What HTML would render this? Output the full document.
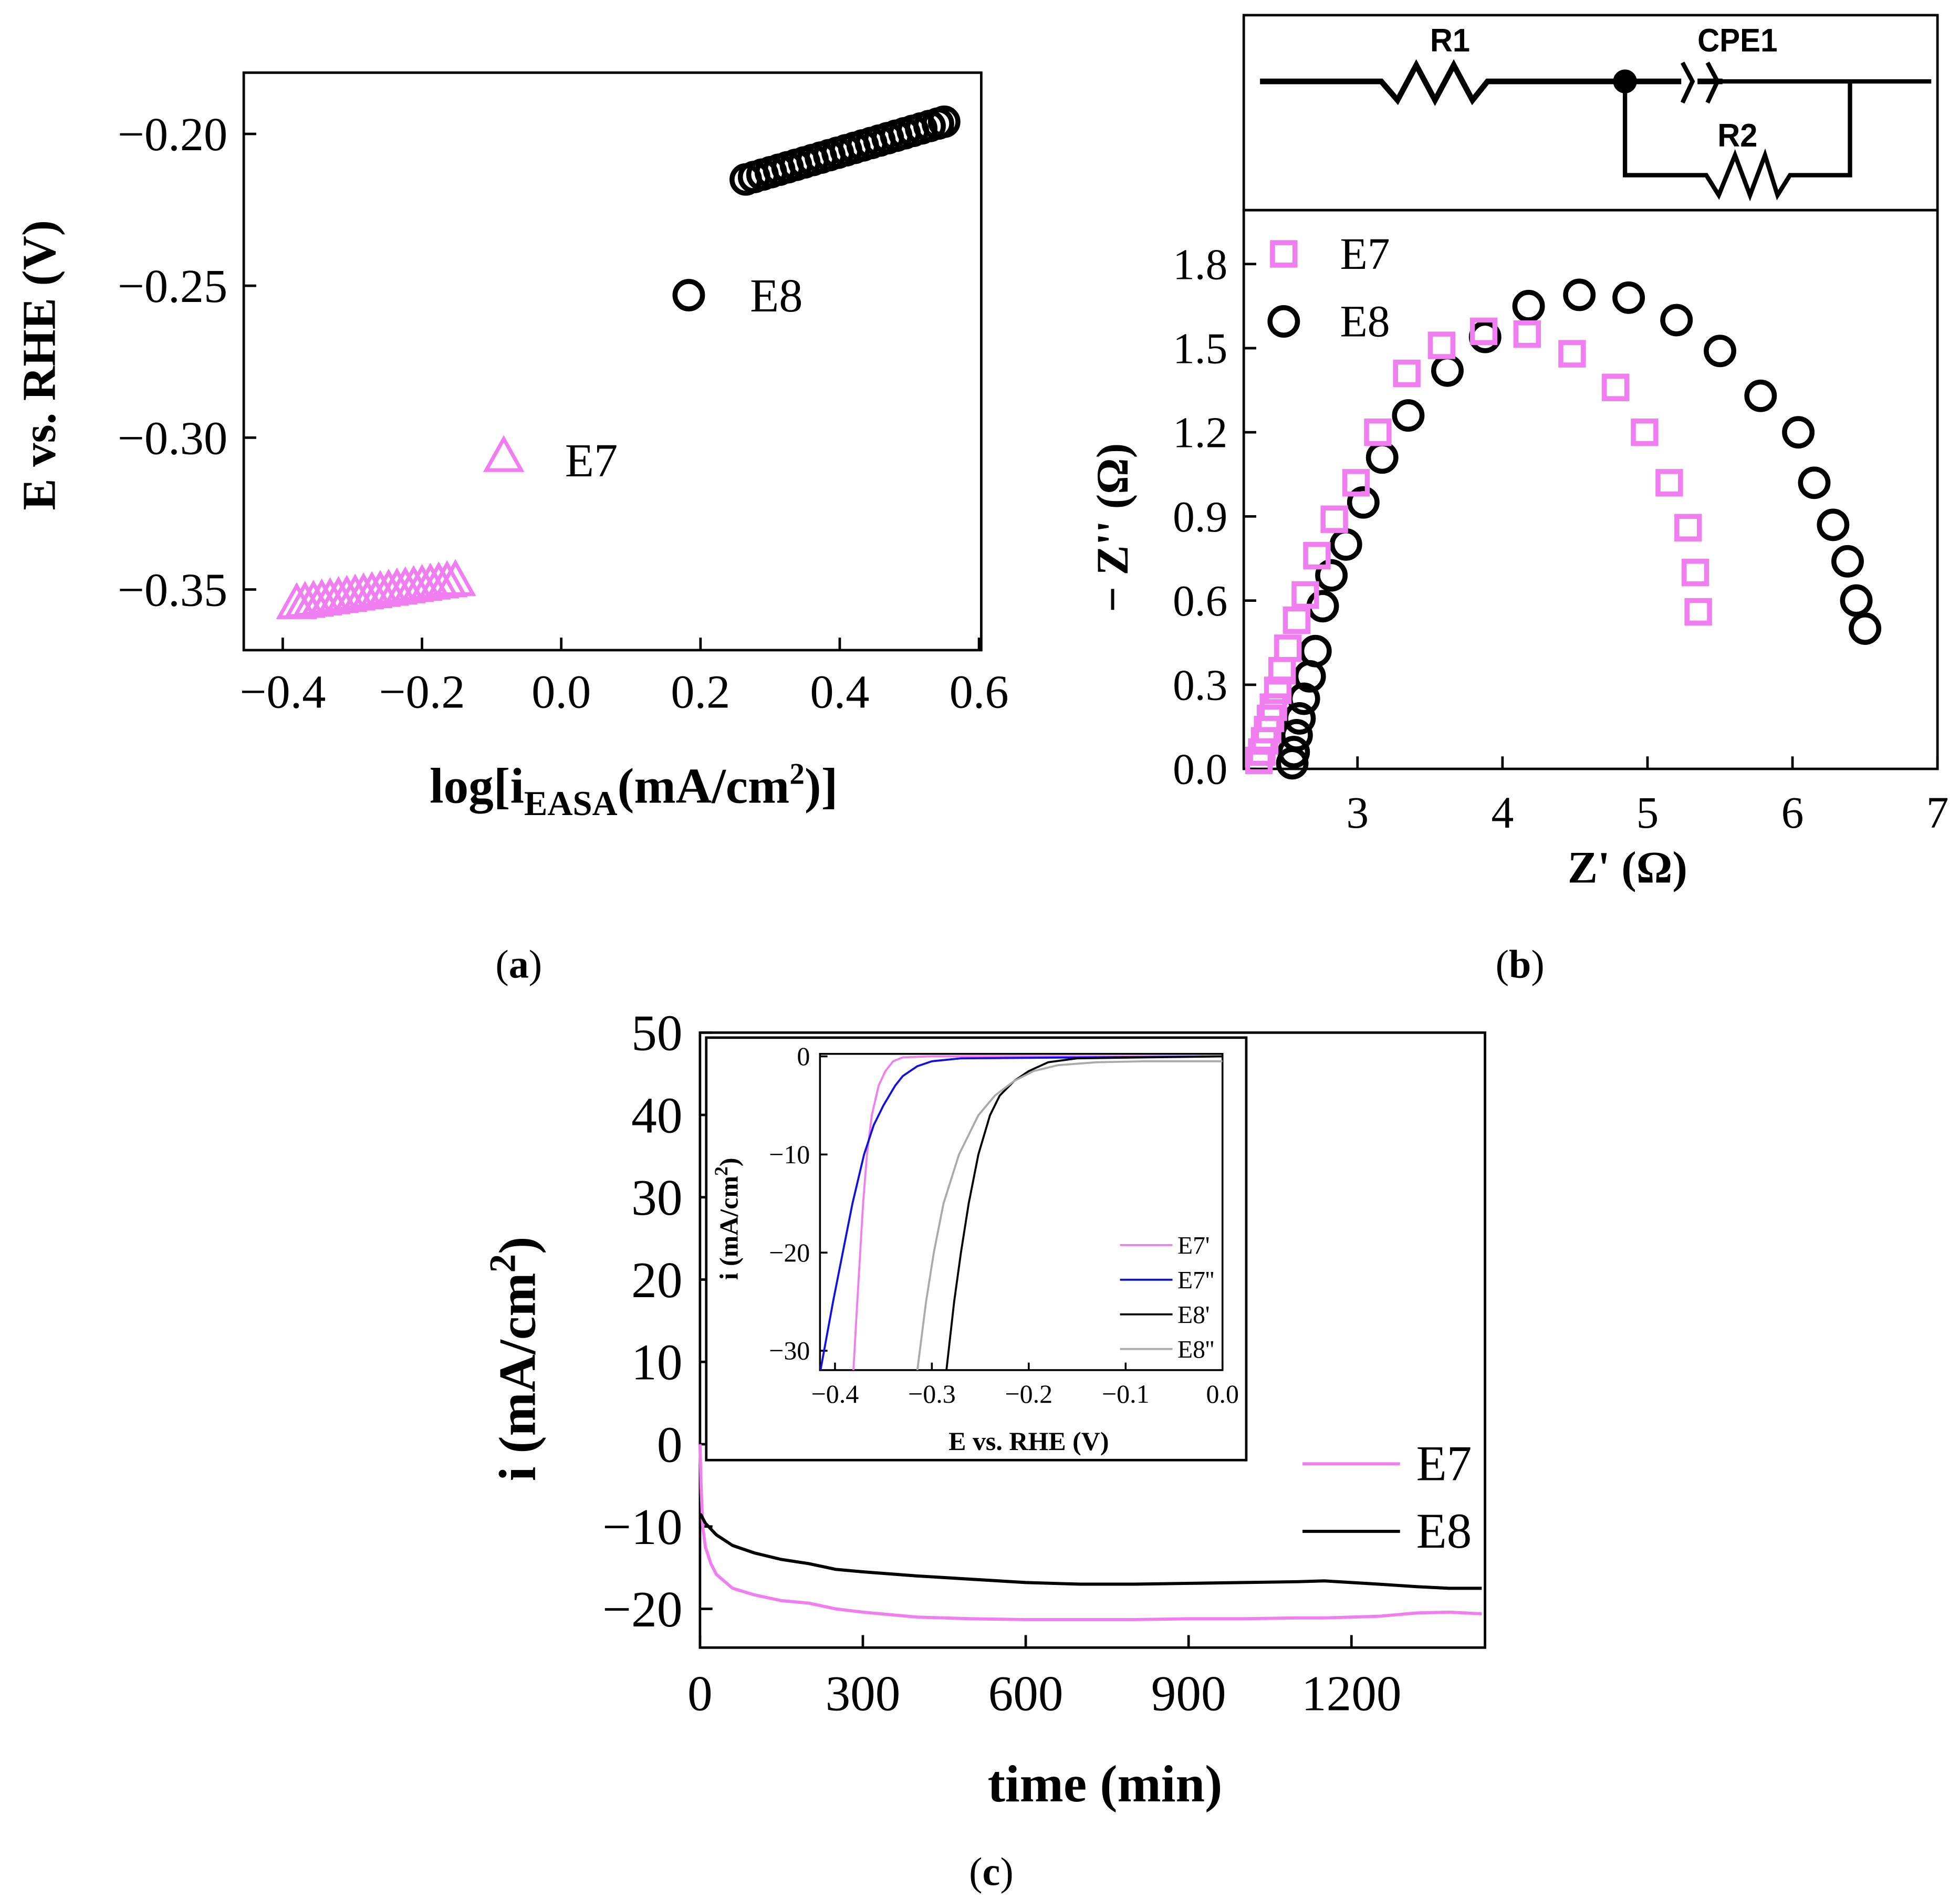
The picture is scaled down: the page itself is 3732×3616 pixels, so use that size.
<!DOCTYPE html>
<html><head><meta charset="utf-8"><style>
html,body{margin:0;padding:0;background:#fff}
svg{display:block;font-family:"Liberation Serif",serif}
</style></head><body>
<svg id="fig" width="3732" height="3616" viewBox="0 0 1568 1519" xmlns="http://www.w3.org/2000/svg">
<rect width="1568" height="1519" fill="#fff"/>
<g id="pa"></g>
<g id="pb"></g>
<g id="pc"></g>
<g id="pi"></g>
<text x="415" y="782" font-size="32" text-anchor="middle">(<tspan font-weight="bold">a</tspan>)</text>
<text x="1216" y="782" font-size="32" text-anchor="middle">(<tspan font-weight="bold">b</tspan>)</text>
<text x="793" y="1508" font-size="32" text-anchor="middle">(<tspan font-weight="bold">c</tspan>)</text>
<g fill="none" stroke="#000">
<rect x="995" y="12" width="555" height="156" stroke-width="2"/>
<path d="M1008 65H1105L1118 80L1133 52L1148 80L1163 52L1178 80L1190 65H1300H1345M1358 65H1378" stroke-width="4.5"/>
<path d="M1346 50L1354 65L1346 82M1366 50L1374 65L1366 82" stroke-width="3.5"/>
<path d="M1376 65H1545M1480 65V140H1432L1422 156L1412 124L1400 156L1388 124L1375 156L1365 140H1300V65" stroke-width="3.5"/>
<circle cx="1300" cy="65" r="9" fill="#000"/>
<text x="1160" y="41" font-family="Liberation Sans,sans-serif" font-weight="bold" font-size="26" fill="#000" stroke="none" text-anchor="middle" textLength="32" lengthAdjust="spacingAndGlyphs">R1</text>
<text x="1390" y="41" font-family="Liberation Sans,sans-serif" font-weight="bold" font-size="26" fill="#000" stroke="none" text-anchor="middle" textLength="64" lengthAdjust="spacingAndGlyphs">CPE1</text>
<text x="1390" y="117" font-family="Liberation Sans,sans-serif" font-weight="bold" font-size="26" fill="#000" stroke="none" text-anchor="middle" textLength="32" lengthAdjust="spacingAndGlyphs">R2</text>
</g>
</svg>
<script>
// Panel a data
const aE8x=[0.265,0.277,0.289,0.301,0.313,0.325,0.337,0.349,0.361,0.373,0.385,0.397,0.409,0.421,0.433,0.445,0.457,0.469,0.481,0.493,0.505,0.517,0.529,0.541,0.55];
const aE8y=[-0.215,-0.2142,-0.2134,-0.2126,-0.2118,-0.211,-0.2102,-0.2094,-0.2086,-0.2078,-0.207,-0.2062,-0.2054,-0.2046,-0.2038,-0.203,-0.2022,-0.2014,-0.2006,-0.1998,-0.199,-0.1982,-0.1974,-0.1966,-0.196];
const aE7x=[-0.38,-0.368,-0.356,-0.344,-0.332,-0.32,-0.308,-0.296,-0.284,-0.272,-0.26,-0.248,-0.236,-0.224,-0.212,-0.2,-0.188,-0.176,-0.164,-0.152];
const aE7y=[-0.355,-0.3546,-0.3542,-0.3538,-0.3534,-0.353,-0.3526,-0.3522,-0.3518,-0.3514,-0.351,-0.3506,-0.3502,-0.3498,-0.3494,-0.349,-0.3486,-0.3482,-0.3478,-0.3474];
const aXticks=[-0.4,-0.2,0.0,0.2,0.4,0.6];
const aYticks=[-0.20,-0.25,-0.30,-0.35];
// Panel b data
const bE7x=[2.32,2.34,2.36,2.38,2.40,2.42,2.45,2.48,2.52,2.58,2.64,2.72,2.84,2.99,3.14,3.34,3.58,3.87,4.17,4.48,4.78,4.98,5.15,5.28,5.33,5.35];
const bE7y=[0.03,0.06,0.1,0.14,0.18,0.22,0.28,0.35,0.43,0.53,0.62,0.76,0.89,1.02,1.2,1.41,1.51,1.56,1.55,1.48,1.36,1.2,1.02,0.86,0.7,0.56];
const bE8x=[2.55,2.56,2.58,2.6,2.63,2.67,2.71,2.76,2.82,2.92,3.04,3.17,3.35,3.62,3.88,4.18,4.53,4.87,5.2,5.5,5.78,6.04,6.15,6.28,6.38,6.44,6.5];
const bE8y=[0.02,0.06,0.12,0.18,0.25,0.33,0.42,0.58,0.69,0.8,0.95,1.11,1.26,1.42,1.54,1.65,1.69,1.68,1.6,1.49,1.33,1.2,1.02,0.87,0.74,0.6,0.5];
const bXticks=[3,4,5,6,7];
const bYticks=[0.0,0.3,0.6,0.9,1.2,1.5,1.8];
// Panel c data
const cT=[0,2,5,10,20,30,60,100,150,200,250,300,400,500,600,700,800,900,1000,1100,1150,1200,1250,1320,1380,1440];
const cE7=[0,-5,-10,-12.5,-14.5,-15.8,-17.5,-18.3,-19,-19.3,-20,-20.4,-21,-21.2,-21.3,-21.3,-21.3,-21.2,-21.2,-21.1,-21.1,-21.0,-20.9,-20.5,-20.4,-20.6];
const cE8=[-8.5,-8.6,-9,-9.6,-10.3,-11,-12.3,-13.2,-14,-14.5,-15.2,-15.5,-16,-16.4,-16.8,-17,-17,-16.9,-16.8,-16.7,-16.6,-16.8,-17,-17.3,-17.5,-17.5];
const cXticks=[0,300,600,900,1200];
const cYticks=[50,40,30,20,10,0,-10,-20];
// Inset data
const iE7pI=[-32,-25,-20,-15,-10,-6,-3,-1.5,-0.5,-0.1,0,0];
const iE7pE=[-0.381,-0.377,-0.374,-0.371,-0.367,-0.362,-0.355,-0.348,-0.34,-0.33,-0.3,0];
const iE7ppI=[-32,-25,-20,-15,-10,-7,-5,-3,-2,-1,-0.5,-0.2,0];
const iE7ppE=[-0.415,-0.402,-0.392,-0.382,-0.37,-0.36,-0.35,-0.338,-0.33,-0.315,-0.3,-0.27,0];
const iE8pI=[-32,-25,-20,-15,-10,-6,-4,-2.5,-1.5,-0.6,-0.2,0];
const iE8pE=[-0.285,-0.277,-0.27,-0.262,-0.252,-0.24,-0.23,-0.215,-0.2,-0.18,-0.15,0];
const iE8ppI=[-32,-25,-20,-15,-10,-6,-4,-2.5,-1.5,-0.9,-0.6,-0.5,-0.5];
const iE8ppE=[-0.315,-0.306,-0.298,-0.288,-0.272,-0.252,-0.235,-0.215,-0.195,-0.17,-0.13,-0.08,0];
const iXticks=[-0.4,-0.3,-0.2,-0.1,0.0];
const iYticks=[0,-10,-20,-30];

const NS="http://www.w3.org/2000/svg";
function mk(parent,tag,attrs,text){const e=document.createElementNS(NS,tag);for(const k in attrs)e.setAttribute(k,attrs[k]);if(text!==undefined)e.textContent=text;parent.appendChild(e);return e;}
const fmtMinus=s=>s.replace('-','\u2212');

// ---------- Panel a ----------
(function(){
const g=document.getElementById('pa');
const X=v=>449+(v-0)*557, Y=v=>107+(v+0.20)*-2430;
const box=mk(g,'rect',{x:195,y:58,width:590,height:462,fill:'none',stroke:'#000','stroke-width':2});


aXticks.forEach(t=>{const x=X(t);mk(g,'line',{x1:x,x2:x,y1:520,y2:510,stroke:'#000','stroke-width':2});
 const tx=mk(g,'text',{x:x,y:566,'font-size':38,'text-anchor':'middle'},fmtMinus(t.toFixed(1)));
 
 });
aYticks.forEach(t=>{const y=Y(t);mk(g,'line',{x1:195,x2:205,y1:y,y2:y,stroke:'#000','stroke-width':2});
 const tx=mk(g,'text',{x:182,y:y+13,'font-size':38,'text-anchor':'end'},fmtMinus(t.toFixed(2)));
 
 });
aE8x.forEach((v,i)=>{const c=mk(g,'circle',{cx:X(v),cy:Y(aE8y[i]),r:11,fill:'none',stroke:'#000','stroke-width':4});
 
 });
aE7x.forEach((v,i)=>{const x=X(v),y=Y(aE7y[i]);const p=mk(g,'path',{d:`M${x} ${y-15}L${x+14} ${y+10}L${x-14} ${y+10}Z`,fill:'none',stroke:'#f07ef0','stroke-width':3});
 
 });
const l1=mk(g,'circle',{cx:551,cy:236,r:11,fill:'none',stroke:'#000','stroke-width':4});


const t1=mk(g,'text',{x:600,y:249,'font-size':38},'E8');


const l2=mk(g,'path',{d:'M403 351L417 376L389 376Z',fill:'none',stroke:'#f07ef0','stroke-width':3});


const t2=mk(g,'text',{x:452,y:381,'font-size':38},'E7');


const xt=mk(g,'text',{x:507,y:642,'font-size':40,'font-weight':'bold','text-anchor':'middle'});
xt.innerHTML='log[i<tspan font-size="28" dy="10">EASA</tspan><tspan dy="-10">(mA/cm</tspan><tspan font-size="24" dy="-15">2</tspan><tspan dy="15">)]</tspan>';


const yt=mk(g,'text',{x:0,y:0,'font-size':38,'font-weight':'bold','text-anchor':'middle',transform:'translate(44,292) rotate(-90)'},'E vs. RHE (V)');


})();

// ---------- Panel b ----------
(function(){
const g=document.getElementById('pb');
const X=v=>1086+(v-3)*116, Y=v=>615-v*224.4;
const box=mk(g,'rect',{x:995,y:168,width:555,height:447,fill:'none',stroke:'#000','stroke-width':2});


bXticks.forEach(t=>{const x=X(t);mk(g,'line',{x1:x,x2:x,y1:615,y2:605,stroke:'#000','stroke-width':2});
 const tx=mk(g,'text',{x:x,y:662,'font-size':36,'text-anchor':'middle'},String(t));
 
 });
bYticks.forEach(t=>{const y=Y(t);mk(g,'line',{x1:995,x2:1005,y1:y,y2:y,stroke:'#000','stroke-width':2});
 const tx=mk(g,'text',{x:982,y:y+12,'font-size':35,'text-anchor':'end'},t.toFixed(1));
 
 });
bE8x.forEach((v,i)=>{const c=mk(g,'circle',{cx:X(v),cy:Y(bE8y[i]),r:11,fill:'none',stroke:'#000','stroke-width':4});
 
 });
bE7x.forEach((v,i)=>{const r=mk(g,'rect',{x:X(v)-9,y:Y(bE7y[i])-9,width:18,height:18,fill:'none',stroke:'#f07ef0','stroke-width':4});
 
 });
const s=mk(g,'rect',{x:1018,y:194,width:18,height:18,fill:'none',stroke:'#f07ef0','stroke-width':4});


const t1=mk(g,'text',{x:1072,y:215,'font-size':36},'E7');


const c=mk(g,'circle',{cx:1027,cy:257,r:11,fill:'none',stroke:'#000','stroke-width':4});


const t2=mk(g,'text',{x:1072,y:269,'font-size':36},'E8');


const xt=mk(g,'text',{x:1302,y:706,'font-size':36,'font-weight':'bold','text-anchor':'middle'},"Z' (Ω)");


const yt=mk(g,'text',{x:0,y:0,'font-size':36,'font-weight':'bold','text-anchor':'middle',transform:'translate(902,422) rotate(-90)'},"− Z'' (Ω)");


})();

// ---------- Panel c ----------
(function(){
const g=document.getElementById('pc');
const X=v=>560+v*0.4343, Y=v=>826+(50-v)*6.586;
const box=mk(g,'rect',{x:560,y:826,width:628,height:492,fill:'none',stroke:'#000','stroke-width':2});


cXticks.forEach(t=>{const x=X(t);mk(g,'line',{x1:x,x2:x,y1:1318,y2:1308,stroke:'#000','stroke-width':2});
 const tx=mk(g,'text',{x:x,y:1368,'font-size':40,'text-anchor':'middle'},String(t));
 
 });
cYticks.forEach(t=>{const y=Y(t);mk(g,'line',{x1:560,x2:570,y1:y,y2:y,stroke:'#000','stroke-width':2});
 const tx=mk(g,'text',{x:546,y:y+14,'font-size':41,'text-anchor':'end'},fmtMinus(String(t)));
 
 });
const p7=mk(g,'polyline',{points:cT.map((t,i)=>X(t)+','+Y(cE7[i])).join(' '),fill:'none',stroke:'#f07ef0','stroke-width':2.5});


const p8=mk(g,'polyline',{points:cT.map((t,i)=>X(t)+','+Y(cE8[i])).join(' '),fill:'none',stroke:'#000','stroke-width':2.5});


const l1=mk(g,'line',{x1:1042,x2:1120,y1:1171,y2:1171,stroke:'#f07ef0','stroke-width':2.5});


const t1=mk(g,'text',{x:1133,y:1184,'font-size':40},'E7');


const l2=mk(g,'line',{x1:1042,x2:1120,y1:1225,y2:1225,stroke:'#000','stroke-width':2.5});


const t2=mk(g,'text',{x:1133,y:1238,'font-size':40},'E8');


const xt=mk(g,'text',{x:884,y:1441,'font-size':42,'font-weight':'bold','text-anchor':'middle'},'time (min)');


const yt=mk(g,'text',{x:0,y:0,'font-size':42,'font-weight':'bold','text-anchor':'middle',transform:'translate(428,1087) rotate(-90)'});
yt.innerHTML='i (mA/cm<tspan font-size="30" dy="-16">2</tspan><tspan dy="16">)</tspan>';


})();

// ---------- Inset ----------
(function(){
const g=document.getElementById('pi');
const X=v=>978+v*775, Y=v=>845-v*7.85;
const ob=mk(g,'rect',{x:565,y:830,width:432,height:338,fill:'#fff',stroke:'#000','stroke-width':2});


const box=mk(g,'rect',{x:656,y:843,width:322,height:253,fill:'none',stroke:'#000','stroke-width':1.5});


const cp=mk(g,'clipPath',{id:'iclip'});mk(cp,'rect',{x:656,y:843,width:322,height:253});
iXticks.forEach(t=>{const x=X(t);mk(g,'line',{x1:x,x2:x,y1:1096,y2:1090,stroke:'#000','stroke-width':1.5});
 const tx=mk(g,'text',{x:x,y:1122,'font-size':21,'text-anchor':'middle'},fmtMinus(t.toFixed(1)));
 
 });
iYticks.forEach(t=>{const y=Y(t);mk(g,'line',{x1:656,x2:662,y1:y,y2:y,stroke:'#000','stroke-width':1.5});
 const tx=mk(g,'text',{x:648,y:y+7,'font-size':21,'text-anchor':'end'},fmtMinus(String(t)));
 
 });
const series=[[iE7pE,iE7pI,'#f07ef0','e7-prime-line'],[iE7ppE,iE7ppI,'#1010e0','e7-double-prime-line'],[iE8pE,iE8pI,'#000','e8-prime-line'],[iE8ppE,iE8ppI,'#aaa','e8-double-prime-line']];
series.forEach(s=>{const p=mk(g,'polyline',{points:s[0].map((e,i)=>X(e)+','+Y(s[1][i])).join(' '),fill:'none',stroke:s[2],'stroke-width':1.6,'clip-path':'url(#iclip)'});
 
 });
const names=["E7'","E7''","E8'","E8''"];
names.forEach((n,k)=>{const y=996+k*27.7;
 const l=mk(g,'line',{x1:896,x2:938,y1:y,y2:y,stroke:series[k][2],'stroke-width':1.6});
 
 
 const t=mk(g,'text',{x:942,y:y+7,'font-size':20},n);
 
 });
const xt=mk(g,'text',{x:823,y:1160,'font-size':21,'font-weight':'bold','text-anchor':'middle'},'E vs. RHE (V)');


const yt=mk(g,'text',{x:0,y:0,'font-size':21,'font-weight':'bold','text-anchor':'middle',transform:'translate(590,975) rotate(-90)'});
yt.innerHTML='i (mA/cm<tspan font-size="15" dy="-8">2</tspan><tspan dy="8">)</tspan>';


})();
</script>
</body></html>
